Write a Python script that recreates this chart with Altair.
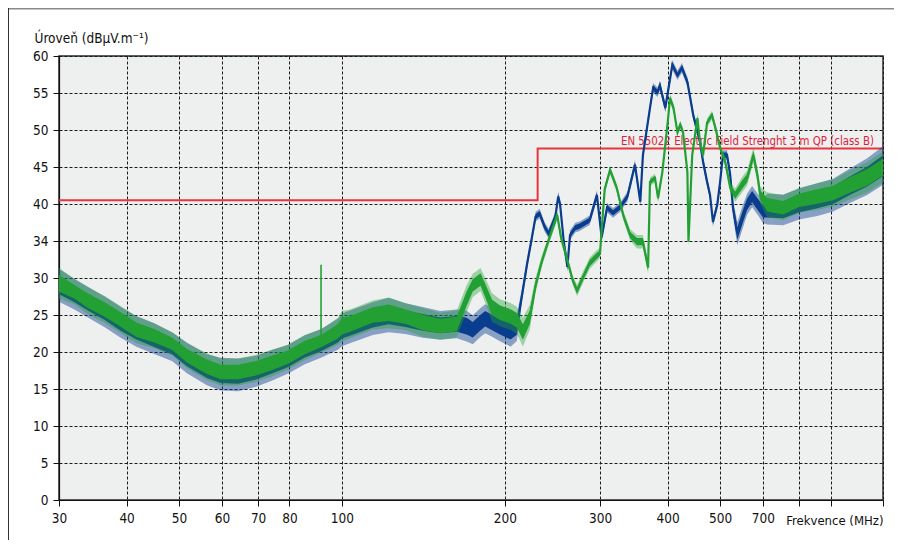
import altair as alt
import pandas as pd

# ---------------- data ----------------
green_freq = [30, 32.1, 33.8, 36.5, 39, 41.7, 45, 48.6, 51.7, 56.3, 59.7, 64.3, 69.4, 74.2, 79.4, 85.4,
              91.7, 98.3, 100, 103.5, 114, 122, 131, 141, 152, 163, 170, 174.5, 180.4, 184, 189.5, 196,
              205, 210.5, 216, 222.5, 228, 234, 241, 250, 254, 261, 267, 272, 279, 287, 296, 300, 302,
              306, 313, 322, 331, 341, 351, 360, 368, 371, 379, 384, 391, 400, 404, 410, 417, 422, 427,
              435, 437, 444, 454, 459, 465, 473, 483, 490, 500, 511, 522, 533, 549, 561, 576, 586, 593,
              611, 654, 700, 756, 809, 870, 935, 1000]
green_level = [29.3, 28.1, 27.0, 25.7, 24.4, 23.0, 22.2, 21.1, 19.5, 18.0, 17.3, 17.3, 17.8, 18.5, 19.3,
               20.6, 21.5, 22.8, 23.5, 23.8, 25.0, 25.3, 24.8, 24.0, 23.5, 23.8, 27.2, 29.0, 29.8, 28.3,
               26.0, 25.3, 24.8, 24.3, 22.7, 24.7, 29.0, 32.2, 35.1, 38.5, 35.5, 32.4, 29.7, 28.3, 30.1,
               32.0, 33.0, 33.4, 36.5, 42.0, 44.6, 42.2, 38.5, 35.8, 34.9, 34.9, 31.4, 43.0, 43.5, 40.8,
               44.3, 51.0, 54.3, 53.0, 49.7, 50.7, 49.7, 44.3, 34.9, 46.6, 51.6, 48.4, 46.6, 51.0, 52.0,
               50.3, 47.6, 45.7, 42.2, 41.2, 42.6, 43.5, 46.6, 43.9, 41.2, 39.9, 39.5, 40.5, 41.0, 41.5,
               42.6, 43.6, 45.0]
green_spread = [1.6, 1.3, 1.4, 1.4, 1.4, 1.4, 1.3, 1.2, 1.3, 1.4, 1.4, 1.4, 1.4, 1.4, 1.3, 1.3, 1.2, 1.4,
                1.6, 1.5, 1.5, 1.6, 1.4, 1.5, 1.4, 1.4, 1.4, 1.2, 1.2, 1.3, 1.5, 1.4, 1.4, 1.4, 1.5, 1.3,
                0.8, 0.6, 0.5, 0.5, 0.5, 0.5, 0.5, 0.6, 0.6, 0.6, 0.6, 0.5,
                0.45, 0.45, 0.45, 0.45, 0.5, 0.6, 0.7, 0.7, 0.6, 0.45, 0.45, 0.45, 0.45, 0.45, 0.45, 0.45, 0.45,
                0.45, 0.45, 0.45, 0.4, 0.45, 0.45, 0.45, 0.45, 0.45, 0.45, 0.45, 0.45, 0.5, 0.6, 0.7, 0.8, 0.8,
                0.8, 0.8, 0.9,
                1.3, 1.3, 1.3, 1.4, 1.4, 1.5, 1.6, 1.6]
green_spike_freq = [91.5]
green_spike_base = [21.5]
green_spike_top = [31.8]

blue_freq = [30, 32.1, 33.8, 36.5, 39, 41.7, 45, 48.6, 51.7, 56.3, 59.7, 64.3, 69.4, 74.2, 79.4, 85.4,
             91.7, 98.3, 100, 103.5, 114, 122, 131, 141, 152, 163, 170, 174.5, 180.4, 184, 189.5, 196,
             205, 210.5, 215, 220, 224, 228, 232, 237, 241, 248, 251, 253, 257, 261, 264, 270, 275, 287,
             296, 302, 309, 317, 327, 337, 348, 356, 360, 371, 376, 383, 387, 396, 408, 417, 425, 435,
             446, 459, 465, 473, 479, 485, 494, 500, 506, 515, 522, 528, 538, 549, 561, 573, 586, 600,
             611, 654, 700, 756, 809, 870, 935, 1000]
blue_level = [29.0, 27.8, 26.8, 25.4, 24.0, 22.8, 21.8, 20.7, 19.2, 17.6, 17.0, 16.9, 17.4, 18.2, 19.0,
              20.3, 21.2, 22.4, 23.0, 23.4, 24.5, 25.0, 24.5, 24.0, 23.6, 23.8, 23.5, 23.0, 24.0, 24.5,
              24.0, 23.4, 22.8, 23.3, 27.5, 32.0, 35.1, 38.3, 38.7, 36.9, 36.0, 38.3, 41.0, 40.0, 35.0,
              31.5, 35.8, 36.8, 37.0, 37.8, 41.2, 35.5, 39.5, 38.8, 39.6, 41.0, 45.3, 40.3, 46.6, 53.0,
              55.7, 55.1, 56.0, 53.0, 58.8, 57.4, 58.4, 56.5, 52.0, 48.4, 45.7, 43.0, 41.2, 37.6, 39.9,
              43.0, 46.6, 46.6, 43.9, 39.5, 36.0, 38.0, 40.0, 41.0, 40.0, 39.0, 39.3, 39.2, 40.0, 40.6,
              41.2, 42.5, 43.7, 45.2]
blue_spread = [1.7, 1.6, 1.6, 1.6, 1.6, 1.6, 1.6, 1.5, 1.6, 1.6, 1.7, 1.7, 1.6, 1.6, 1.5, 1.5, 1.5, 1.6,
               1.7, 1.7, 1.7, 1.8, 1.6, 1.6, 1.5, 1.5, 1.6, 1.5, 1.5, 1.5, 1.5, 1.5, 1.6, 1.4,
               0.7, 0.55, 0.5, 0.5, 0.5, 0.5, 0.5, 0.5, 0.5, 0.5, 0.5, 0.5, 0.5, 0.5, 0.5, 0.5, 0.5,
               0.5, 0.5, 0.5, 0.5, 0.5, 0.5, 0.5, 0.5, 0.5, 0.5, 0.5, 0.5, 0.5, 0.5, 0.5, 0.5, 0.5,
               0.5, 0.5, 0.5, 0.5, 0.5, 0.5, 0.5, 0.5, 0.5, 0.5, 0.6,
               0.9, 1.2, 1.2, 1.1, 1.1, 1.1, 1.2,
               1.6, 1.6, 1.6, 1.7, 1.7, 1.8, 1.9, 2.0]

limit_freq = [30, 230, 230, 1000]
limit_level = [40.5, 40.5, 47.5, 47.5]
limit_label = "EN 55022 Electric Field Strenght 3 m QP (class B)"

x_ticks = [30, 40, 50, 60, 70, 80, 100, 200, 300, 400, 500, 600, 700, 800, 1000]
y_ticks = [0, 5, 10, 15, 20, 25, 30, 35, 40, 45, 50, 55, 60]

x_title = "Frekvence (MHz)"
y_title = "Úroveň (dBµV.m⁻¹)"

# ---------------- styling ----------------
FONT = "DejaVu Sans Condensed"
BLUE = "#0b3d8e"
GREEN = "#23a034"
RED = "#e8343c"
RED_TEXT = "#dc1e3c"
W, H = 824, 444


def band(freq, level, spread):
    return pd.DataFrame({
        "freq": freq,
        "level": level,
        "lo_out": [l - 1.3 * s for l, s in zip(level, spread)],
        "hi_out": [l + 1.3 * s for l, s in zip(level, spread)],
        "lo_in": [l - 0.7 * s for l, s in zip(level, spread)],
        "hi_in": [l + 0.7 * s for l, s in zip(level, spread)],
    })


green_df = band(green_freq, green_level, green_spread)
blue_df = band(blue_freq, blue_level, blue_spread)
limit_df = pd.DataFrame({"freq": limit_freq, "level": limit_level, "idx": list(range(len(limit_freq)))})
label_df = pd.DataFrame({"freq": [limit_freq[-1]], "level": [limit_level[-1]], "text": [limit_label]})
spike_df = pd.DataFrame({"freq": green_spike_freq, "base": green_spike_base, "top": green_spike_top})

x_scale = alt.Scale(type="log", domain=[30, 1000], nice=False)
y_scale = alt.Scale(domain=[0, 60], nice=False)

x_axis = alt.Axis(
    values=x_ticks,
    labelExpr="datum.value == 600 ? '700' : (datum.value >= 700 ? '' : format(datum.value, 'd'))",
    title=x_title, titleAngle=0, titleAlign="right", titleBaseline="alphabetic",
    titleX=W, titleY=24, titleFontWeight="normal", titleFontSize=13, titleFont=FONT,
    titleColor="#111",
    labelFont=FONT, labelFontSize=13.5, labelColor="#111", labelPadding=5, labelFlush=False,
    labelOverlap=False,
    tickSize=6, tickColor="#111", domainColor="#111", domainWidth=1.2,
    grid=True, gridColor="#1a1a1a", gridDash=[3, 2], gridWidth=1, gridOpacity=1,
)
y_axis = alt.Axis(
    values=y_ticks,
    labelExpr="datum.value == 35 ? '34' : format(datum.value, 'd')",
    title=y_title, titleAngle=0, titleAlign="left", titleBaseline="alphabetic",
    titleX=-25, titleY=-14, titleFontWeight="normal", titleFontSize=13.5, titleFont=FONT,
    titleColor="#111",
    labelFont=FONT, labelFontSize=13.5, labelColor="#111", labelPadding=5,
    tickSize=6, tickColor="#111", domainColor="#111", domainWidth=1.2,
    grid=True, gridColor="#1a1a1a", gridDash=[3, 2], gridWidth=1, gridOpacity=1,
)

X = alt.X("freq:Q", scale=x_scale, axis=x_axis)


def Y(field):
    return alt.Y(f"{field}:Q", scale=y_scale, axis=y_axis)


frame_df = pd.DataFrame({"a": [0]})
frame_top = alt.Chart(frame_df).mark_rule(color="#8a8a8a", strokeWidth=1.5).encode(
    x=alt.value(-51), x2=alt.value(W + 11), y=alt.value(-47.2))
frame_left = alt.Chart(frame_df).mark_rule(color="#333", strokeWidth=1).encode(
    x=alt.value(-50.5), y=alt.value(-48), y2=alt.value(H + 40))

limit_line = alt.Chart(limit_df).mark_line(color=RED, strokeWidth=2).encode(
    x=X, y=Y("level"), order="idx:Q")
limit_text = alt.Chart(label_df).mark_text(
    align="right", baseline="alphabetic", dx=-9, dy=-4, font=FONT, fontSize=11.4, color=RED_TEXT
).encode(x=X, y=Y("level"), text="text:N")


def series_layers(df, color, halo_opacity):
    outer = alt.Chart(df).mark_area(color=color, opacity=halo_opacity).encode(
        x=X, y=Y("lo_out"), y2="hi_out:Q")
    inner = alt.Chart(df).mark_area(color=color, opacity=1).encode(x=X, y=Y("lo_in"), y2="hi_in:Q")
    line = alt.Chart(df).mark_line(color=color, strokeWidth=2.2).encode(x=X, y=Y("level"))
    return [outer, inner, line]


spike = alt.Chart(spike_df).mark_rule(color=GREEN, strokeWidth=1.6).encode(
    x=X, y=Y("base"), y2="top:Q")

chart = alt.layer(
    frame_top, frame_left, limit_line, limit_text,
    *series_layers(blue_df, BLUE, 0.45),
    *series_layers(green_df, GREEN, 0.4),
    spike,
).properties(
    width=W, height=H,
    padding={"left": 51, "top": 48, "right": 11, "bottom": 40},
    autosize=alt.AutoSizeParams(type="none"),
    background="white",
).configure_view(
    fill="#eef0ef", stroke="#2a2a2a", strokeWidth=1.5,
)

chart.save("out.html", embed_options={"renderer": "svg", "actions": False})
